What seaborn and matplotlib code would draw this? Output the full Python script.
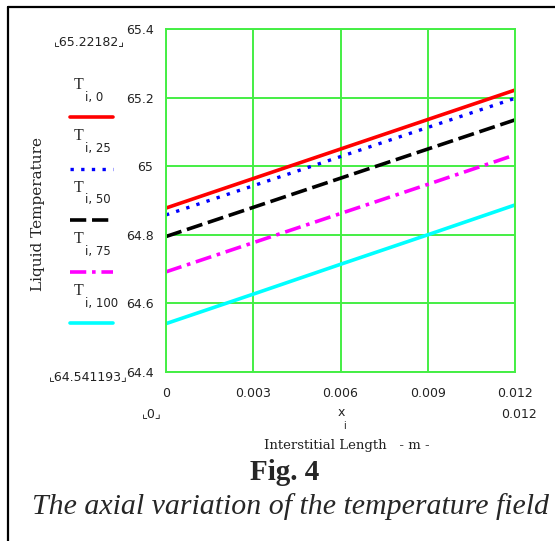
"""Axial variation of the liquid temperature field (Fig. 4)."""
import matplotlib
matplotlib.use('Agg')
import seaborn as sns
from matplotlib import pyplot as plt
from matplotlib.lines import Line2D

# x positions along the interstitial length (m)
length = [0.0, 0.003, 0.006, 0.009, 0.012]

# liquid temperature for each series
t_i_0 = [64.878, 64.964, 65.050, 65.136, 65.222]
t_i_25 = [64.858, 64.943, 65.028, 65.113, 65.198]
t_i_50 = [64.795, 64.880, 64.965, 65.050, 65.135]
t_i_75 = [64.692, 64.777, 64.862, 64.947, 65.033]
t_i_100 = [64.541, 64.627, 64.714, 64.800, 64.887]

series_subs = ['i, 0', 'i, 25', 'i, 50', 'i, 75', 'i, 100']
y_ticks = [64.4, 64.6, 64.8, 65.0, 65.2, 65.4]
y_ticklabels = ['64.4', '64.6', '64.8', '65', '65.2', '65.4']
x_ticks = [0, 0.003, 0.006, 0.009, 0.012]
x_ticklabels = ['0', '0.003', '0.006', '0.009', '0.012']

W, H = 555, 541
DPI = 100
GRID_GREEN = '#44ee44'
SERIF = 'Liberation Serif'
LABEL_SERIF = 'DejaVu Serif'
TXT = '#222222'

styles = [
    dict(color='#ff0000', linestyle='-', linewidth=2.6),
    dict(color='#0000ff', linestyle=(0, (1, 2.2)), linewidth=2.4),
    dict(color='#000000', linestyle=(0, (4.5, 1.6)), linewidth=2.6),
    dict(color='#ff00ff', linestyle=(0, (4.5, 1.6, 1, 1.6)), linewidth=2.6),
    dict(color='#00ffff', linestyle='-', linewidth=2.6),
]

sns.set_style('white')
plt.rcParams['font.family'] = ['DejaVu Sans']

fig = plt.figure(figsize=(W / DPI, H / DPI), dpi=DPI)
ax = fig.add_axes([166 / W, 1 - 372 / H, (515 - 166) / W, (372 - 29) / H])

for values, st in zip([t_i_0, t_i_25, t_i_50, t_i_75, t_i_100], styles):
    sns.lineplot(x=length, y=values, ax=ax, **st)

ax.set_xlim(0, 0.012)
ax.set_ylim(64.4, 65.4)
ax.set_xticks(x_ticks)
ax.set_xticklabels(x_ticklabels, fontsize=9, color=TXT)
ax.set_yticks(y_ticks)
ax.set_yticklabels(y_ticklabels, fontsize=9, color=TXT)
ax.tick_params(length=0, pad=9)
ax.tick_params(axis='x', pad=11)
ax.grid(True, color=GRID_GREEN, linewidth=1.4)
ax.set_axisbelow(True)
for sp in ax.spines.values():
    sp.set_color(GRID_GREEN)
    sp.set_linewidth(1.4)


def px(x, y):
    return x / W, 1 - y / H


# legend stacked on the left, label above its line sample
for k, (sub, st) in enumerate(zip(series_subs, styles)):
    y0 = 88 + k * 51.5
    fig.text(*px(74, y0 - 3), 'T', family=SERIF, fontsize=11.5, va='center')
    fig.text(*px(85, y0 + 9), sub, fontsize=8.5, va='center', color=TXT)
    fig.add_artist(Line2D([70 / W, 113 / W], [1 - (y0 + 29) / H] * 2,
                          transform=fig.transFigure, **st))

# axis limit annotations
fig.text(*px(125, 42), '\u231e65.22182\u231f', fontsize=9, ha='right',
         va='center', color=TXT)
fig.text(*px(128, 377), '\u231e64.541193\u231f', fontsize=9, ha='right',
         va='center', color=TXT)
fig.text(*px(152, 414), '\u231e0\u231f', fontsize=9, ha='center',
         va='center', color=TXT)
fig.text(*px(537, 414), '0.012', fontsize=9, ha='right', va='center',
         color=TXT)
fig.text(*px(341, 412), 'x', fontsize=9, ha='center', va='center', color=TXT)
fig.text(*px(345, 426), 'i', fontsize=7, ha='center', va='center', color=TXT)

fig.text(*px(38, 214), 'Liquid Temperature', family=LABEL_SERIF,
         fontsize=11, rotation=90, ha='center', va='center', color=TXT)
fig.text(*px(347, 445), 'Interstitial Length   - m -', family=LABEL_SERIF,
         fontsize=9.5, ha='center', va='center', color=TXT)

fig.text(*px(285, 473), 'Fig. 4', family=SERIF, fontsize=21, weight='bold',
         ha='center', va='center')
fig.text(*px(291, 507), 'The axial variation of the temperature field',
         family=SERIF, fontsize=21.5, style='italic', ha='center',
         va='center')

# frame around the figure (only top and left edges visible)
fig.add_artist(Line2D([8 / W, 8 / W], [0, 1 - 7 / H], transform=fig.transFigure,
                      color='black', linewidth=1.6))
fig.add_artist(Line2D([8 / W, 1], [1 - 7 / H] * 2, transform=fig.transFigure,
                      color='black', linewidth=1.6))

fig.savefig('out.png', dpi=DPI)
